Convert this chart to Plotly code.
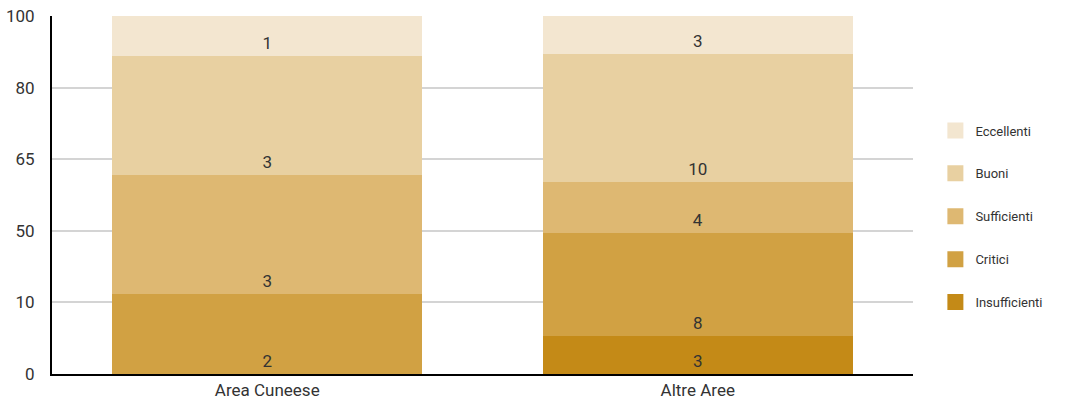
import plotly.graph_objects as go

categories = ["Area Cuneese", "Altre Aree"]
series_names = ["Insufficienti", "Critici", "Sufficienti", "Buoni", "Eccellenti"]
insufficienti = [0, 3]
critici = [2, 8]
sufficienti = [3, 4]
buoni = [3, 10]
eccellenti = [1, 3]
colors = ["#C48A17", "#D1A143", "#DEB872", "#E8D0A1", "#F3E6D0"]
ytick_vals = [0, 20, 40, 60, 80, 100]
ytick_text = ["0", "10", "50", "65", "80", "100"]

values = [insufficienti, critici, sufficienti, buoni, eccellenti]
FONT = "Roboto"

fig = go.Figure()
for name, vals, col in zip(series_names, values, colors):
    fig.add_trace(go.Bar(
        x=categories, y=vals, name=name,
        marker=dict(color=col, line=dict(width=0)),
        text=[str(v) if v else "" for v in vals],
        textposition="inside", insidetextanchor="start",
        textfont=dict(size=17, color="#333333", family=FONT),
        constraintext="none",
        showlegend=False, hoverinfo="skip",
    ))
# legend entries with larger square swatches (top to bottom: Eccellenti ... Insufficienti)
for name, col in reversed(list(zip(series_names, colors))):
    fig.add_trace(go.Scatter(
        x=[None], y=[None], mode="markers", name=name,
        marker=dict(symbol="square", size=21, color=col),
        legendgroup=name, showlegend=True,
    ))

fig.update_layout(
    barmode="stack", barnorm="percent", bargap=0.28,
    width=1073, height=408,
    margin=dict(l=52, r=160, t=16, b=34, autoexpand=False),
    plot_bgcolor="white", paper_bgcolor="white",
    font=dict(family=FONT, color="#333333"),
    legend=dict(x=1.026, y=0.44, yanchor="middle", xanchor="left",
                traceorder="grouped", tracegroupgap=23,
                font=dict(size=13, color="#333333")),
    xaxis=dict(showline=True, linecolor="black", linewidth=2, automargin=False,
               tickfont=dict(size=17, color="#333333"), ticks=""),
    yaxis=dict(range=[0, 100], tickvals=ytick_vals, ticktext=ytick_text,
               showgrid=True, gridcolor="#d4d4d4", gridwidth=2, automargin=False,
               showline=True, linecolor="black", linewidth=2,
               zeroline=False, ticks="", ticklabelstandoff=12,
               tickfont=dict(size=17, color="#333333")),
)
fig.write_html("out.html", config={"displayModeBar": False},
               post_script="document.body.style.margin='0';")
